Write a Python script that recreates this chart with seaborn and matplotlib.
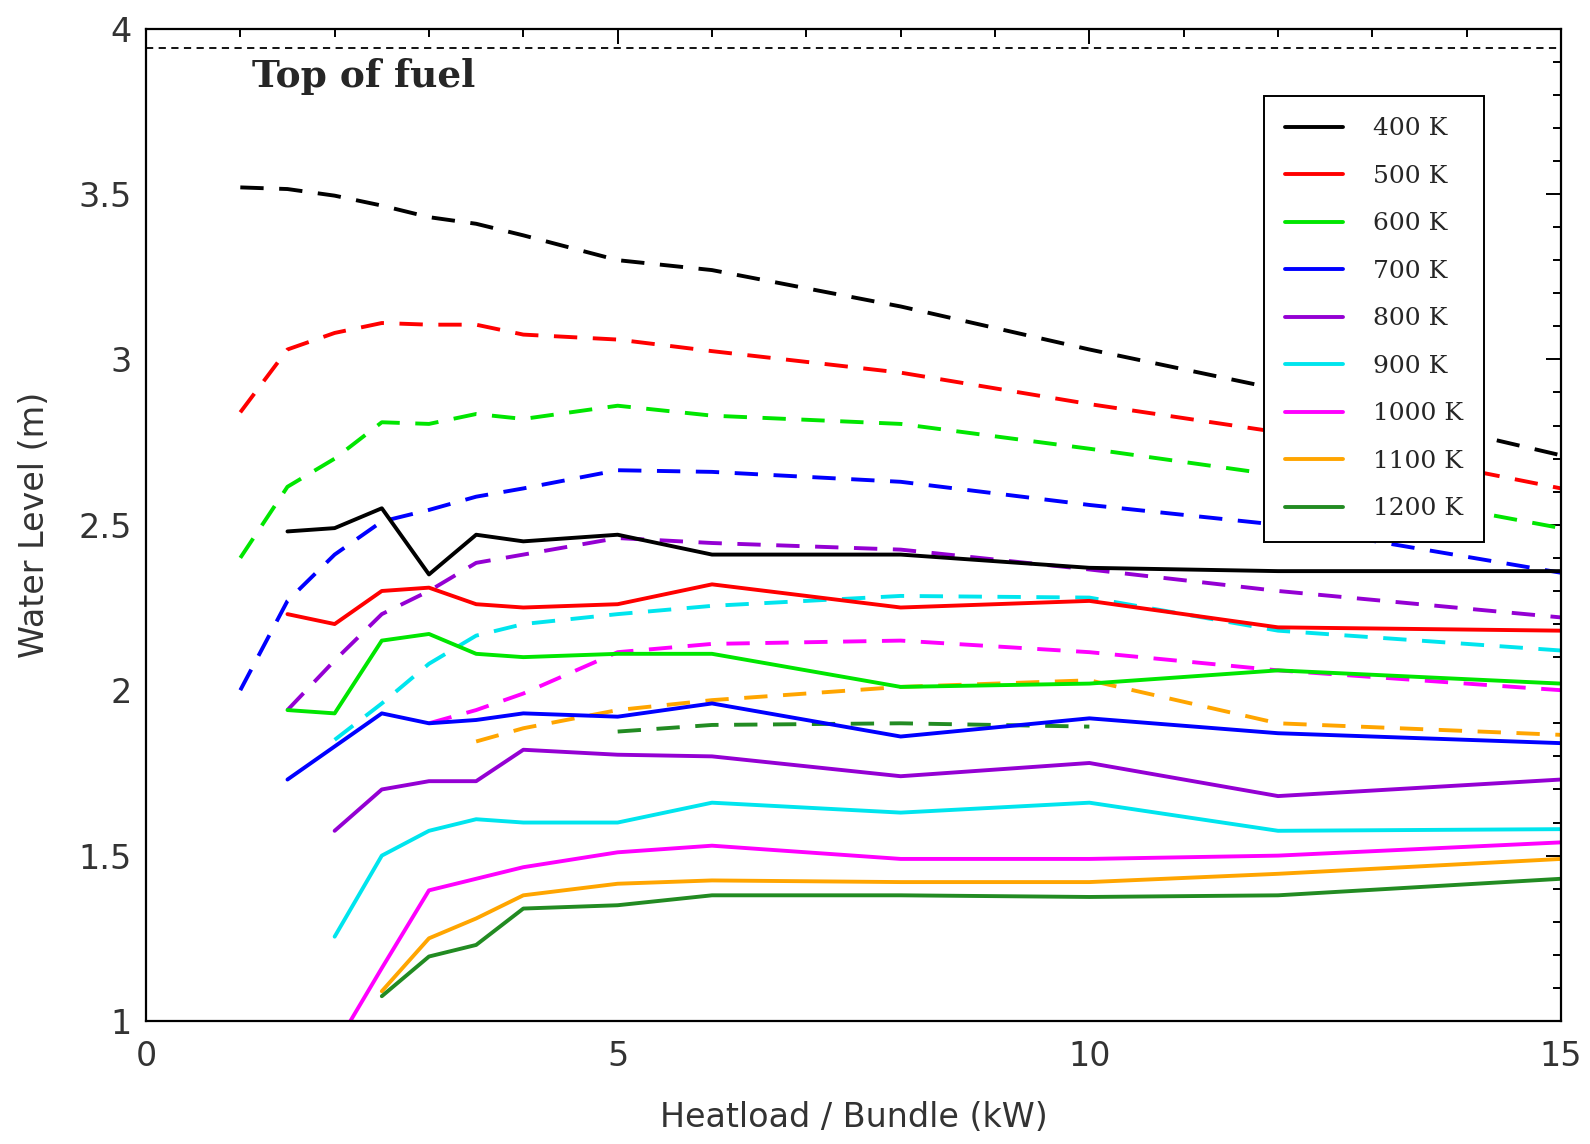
import numpy as np
import pandas as pd
import seaborn as sns
import matplotlib.pyplot as plt
from matplotlib.ticker import MultipleLocator
from matplotlib.lines import Line2D

# heatload per bundle (kW) where the runs were done
heatload = [1, 1.5, 2, 2.5, 3, 3.5, 4, 5, 6, 8, 10, 12, 15]
nan = np.nan

temperaturas = ['400 K', '500 K', '600 K', '700 K', '800 K', '900 K', '1000 K', '1100 K', '1200 K']
cores = ['#000000', '#ff0000', '#00e600', '#0000ff', '#9400d3', '#00e5ee', '#ff00ff', '#ffa500', '#228b22']

# solid lines
nivel_400 = [nan, 2.48, 2.49, 2.55, 2.35, 2.47, 2.45, 2.47, 2.41, 2.41, 2.37, 2.36, 2.36]
nivel_500 = [nan, 2.23, 2.20, 2.30, 2.31, 2.26, 2.25, 2.26, 2.32, 2.25, 2.27, 2.19, 2.18]
nivel_600 = [nan, 1.94, 1.93, 2.15, 2.17, 2.11, 2.10, 2.11, 2.11, 2.01, 2.02, 2.06, 2.02]
nivel_700 = [nan, 1.73, 1.83, 1.93, 1.90, 1.91, 1.93, 1.92, 1.96, 1.86, 1.915, 1.87, 1.84]
nivel_800 = [nan, nan, 1.575, 1.70, 1.725, 1.725, 1.82, 1.805, 1.80, 1.74, 1.78, 1.68, 1.73]
nivel_900 = [nan, nan, 1.255, 1.50, 1.575, 1.61, 1.60, 1.60, 1.66, 1.63, 1.66, 1.575, 1.58]
nivel_1000 = [nan, nan, 0.92, 1.16, 1.395, 1.43, 1.465, 1.51, 1.53, 1.49, 1.49, 1.50, 1.54]
nivel_1100 = [nan, nan, nan, 1.09, 1.25, 1.31, 1.38, 1.415, 1.425, 1.42, 1.42, 1.445, 1.49]
nivel_1200 = [nan, nan, nan, 1.075, 1.195, 1.23, 1.34, 1.35, 1.38, 1.38, 1.375, 1.38, 1.43]

# dashed lines
trac_400 = [3.52, 3.515, 3.495, 3.465, 3.43, 3.41, 3.375, 3.30, 3.27, 3.16, 3.03, 2.91, 2.71]
trac_500 = [2.84, 3.03, 3.08, 3.11, 3.105, 3.105, 3.075, 3.06, 3.025, 2.96, 2.865, 2.78, 2.61]
trac_600 = [2.40, 2.615, 2.70, 2.81, 2.805, 2.835, 2.82, 2.86, 2.83, 2.805, 2.73, 2.65, 2.49]
trac_700 = [2.00, 2.27, 2.41, 2.51, 2.545, 2.585, 2.61, 2.665, 2.66, 2.63, 2.56, 2.50, 2.355]
trac_800 = [nan, 1.94, 2.09, 2.23, 2.30, 2.385, 2.41, 2.46, 2.445, 2.425, 2.365, 2.30, 2.22]
trac_900 = [nan, nan, 1.85, 1.96, 2.08, 2.165, 2.20, 2.23, 2.255, 2.285, 2.28, 2.18, 2.12]
trac_1000 = [nan, nan, nan, nan, 1.90, 1.94, 1.99, 2.115, 2.14, 2.15, 2.115, 2.06, 2.00]
trac_1100 = [nan, nan, nan, nan, nan, 1.845, 1.885, 1.94, 1.97, 2.01, 2.03, 1.90, 1.865]
trac_1200 = [nan, nan, nan, nan, nan, nan, nan, 1.875, 1.895, 1.90, 1.89, nan, nan]

topo_combustivel = 3.94

solidas = [nivel_400, nivel_500, nivel_600, nivel_700, nivel_800, nivel_900, nivel_1000, nivel_1100, nivel_1200]
tracejadas = [trac_400, trac_500, trac_600, trac_700, trac_800, trac_900, trac_1000, trac_1100, trac_1200]

sns.set_style("white")
plt.rcParams['font.family'] = ['DejaVu Sans']

fig = plt.figure(figsize=(15.9, 11.44), dpi=100)
ax = fig.add_axes([0.0918, 0.1075, 0.89, 0.8675])

for temp, cor, y in zip(temperaturas, cores, tracejadas):
    df = pd.DataFrame({'x': heatload, 'y': y}).dropna()
    sns.lineplot(data=df, x='x', y='y', color=cor, lw=2.8, ax=ax)
    ax.lines[-1].set_dashes((6, 4))

for temp, cor, y in zip(temperaturas, cores, solidas):
    df = pd.DataFrame({'x': heatload, 'y': y}).dropna()
    sns.lineplot(data=df, x='x', y='y', color=cor, lw=2.8, ax=ax)

ax.axhline(topo_combustivel, color='black', lw=1.3, dashes=(4, 3))
ax.text(1.12, 3.855, 'Top of fuel', fontsize=27, fontweight='bold', family='DejaVu Serif', va='center')

ax.set_xlim(0, 15)
ax.set_ylim(1, 4)
ax.xaxis.set_major_locator(MultipleLocator(5))
ax.xaxis.set_minor_locator(MultipleLocator(1))
ax.yaxis.set_major_locator(MultipleLocator(0.5))
ax.yaxis.set_minor_locator(MultipleLocator(0.1))
ax.tick_params(which='both', direction='in', top=True, right=True, width=1.4, colors='black',
               labelcolor='#333333', labelsize=24)
ax.tick_params(axis='x', pad=14)
ax.tick_params(axis='y', pad=10)
ax.tick_params(which='major', length=11)
ax.tick_params(which='minor', length=6)
ax.set_xticks([0, 5, 10, 15])
ax.set_xticklabels(['0', '5', '10', '15'])
ax.set_yticks([1, 1.5, 2, 2.5, 3, 3.5, 4])
ax.set_yticklabels(['1', '1.5', '2', '2.5', '3', '3.5', '4'])
for s in ax.spines.values():
    s.set_linewidth(1.6)
    s.set_color('black')

ax.set_xlabel('Heatload / Bundle (kW)', fontsize=24, color='#333333', labelpad=20)
ax.set_ylabel('Water Level (m)', fontsize=24, color='#333333', labelpad=20)

handles = [Line2D([], [], color=c, lw=2.8) for c in cores]
leg = ax.legend(handles, temperaturas, loc='upper left', bbox_to_anchor=(0.79, 0.932),
                prop={'family': 'DejaVu Serif', 'size': 18}, frameon=True, framealpha=1,
                fancybox=False, edgecolor='black', handlelength=2.3, handletextpad=1.2,
                labelspacing=0.98, borderpad=0.85, borderaxespad=0)
leg.get_frame().set_linewidth(1.4)

fig.savefig('out.png', dpi=100)
